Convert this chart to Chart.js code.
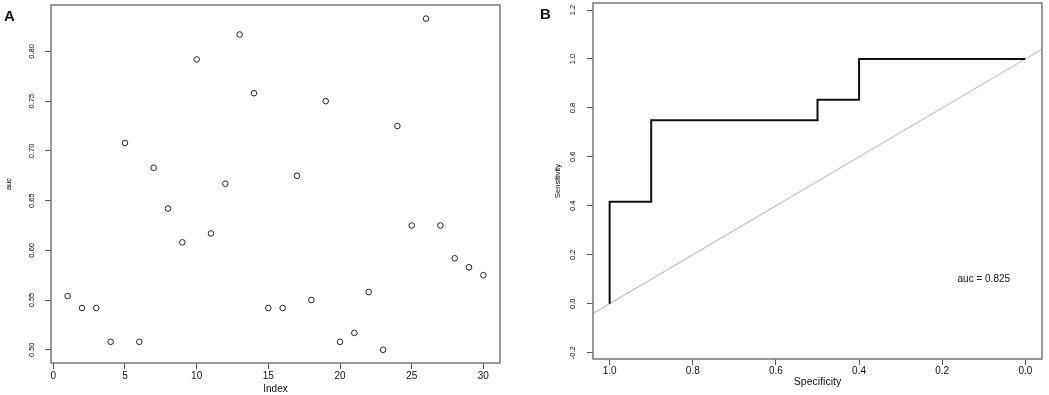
<!DOCTYPE html>
<html>
<head>
<meta charset="utf-8">
<script src="https://cdn.jsdelivr.net/npm/chart.js@4.4.0/dist/chart.umd.min.js"></script>
<style>
  body { margin: 0; background: #fff; }
  #wrap { position: relative; width: 1049px; height: 395px; overflow: hidden; }
  canvas { position: absolute; top: 0; }
  .tag { position: absolute; font: bold 15px "Liberation Sans", Arial, sans-serif; line-height: 1; color: #111; }
</style>
</head>
<body>
<div id="wrap">
  <canvas id="chartA" width="520" height="395" style="left:0"></canvas>
  <canvas id="chartB" width="529" height="395" style="left:520px"></canvas>
  <div class="tag" style="left:4px;top:8px">A</div>
  <div class="tag" style="left:540px;top:6px">B</div>
</div>
<script>
// Panel A: auc per index
const indexA = [1, 2, 3, 4, 5, 6, 7, 8, 9, 10, 11, 12, 13, 14, 15,
                16, 17, 18, 19, 20, 21, 22, 23, 24, 25, 26, 27, 28, 29, 30];
const aucA = [0.554, 0.542, 0.542, 0.508, 0.708, 0.508, 0.683, 0.642, 0.608, 0.792,
              0.617, 0.667, 0.817, 0.758, 0.542, 0.542, 0.675, 0.550, 0.750, 0.508,
              0.517, 0.558, 0.500, 0.725, 0.625, 0.833, 0.625, 0.592, 0.583, 0.575];
const xTicksA = [0, 5, 10, 15, 20, 25, 30];
const yTicksA = [0.50, 0.55, 0.60, 0.65, 0.70, 0.75, 0.80];

// Panel B: ROC curve
const specB = [1.0, 1.0, 0.9, 0.9, 0.5, 0.5, 0.4, 0.4, 0.0];
const sensB = [0.0, 0.417, 0.417, 0.75, 0.75, 0.833, 0.833, 1.0, 1.0];
const xTicksB = [1.0, 0.8, 0.6, 0.4, 0.2, 0.0];
const yTicksB = [-0.2, 0.0, 0.2, 0.4, 0.6, 0.8, 1.0, 1.2];
const aucLabel = "auc = 0.825";
const aucAt = { x: 0.1, y: 0.1 };

const xMinB = -0.04, xMaxB = 1.04;

Chart.defaults.font.family = '"Liberation Sans", Arial, sans-serif';
Chart.defaults.color = "#111";

// box round the plot region, like R's box()
const boxPlugin = {
    id: "box",
    afterDraw(chart) {
        const { ctx, chartArea: a } = chart;
        ctx.save();
        ctx.strokeStyle = "#777";
        ctx.lineWidth = 1.5;
        ctx.strokeRect(a.left, a.top, a.right - a.left, a.bottom - a.top);
        ctx.restore();
    }
};

const aucTextPlugin = {
    id: "aucText",
    afterDatasetsDraw(chart) {
        const { ctx, scales } = chart;
        ctx.save();
        ctx.font = '10px "Liberation Sans", Arial, sans-serif';
        ctx.fillStyle = "#111";
        ctx.textAlign = "center";
        ctx.textBaseline = "middle";
        ctx.fillText(aucLabel, scales.x.getPixelForValue(aucAt.x), scales.y.getPixelForValue(aucAt.y));
        ctx.restore();
    }
};

function fixedAxis(size) {
    return function (scale) {
        if (scale.isHorizontal()) {
            scale.height = size;
            scale.paddingLeft = 0;
            scale.paddingRight = 0;
        } else {
            scale.width = size;
            scale.paddingTop = 0;
            scale.paddingBottom = 0;
        }
    };
}

function setTicks(values) {
    return function (scale) {
        scale.ticks = values.map(v => ({ value: v }));
    };
}

const tickGrid = { drawOnChartArea: false, tickLength: 6, color: "#555", lineWidth: 1 };

new Chart(document.getElementById("chartA"), {
    type: "scatter",
    data: {
        datasets: [{
            data: indexA.map((x, i) => ({ x: x, y: aucA[i] })),
            pointRadius: 2.8,
            pointBorderWidth: 1,
            pointBorderColor: "#222",
            pointBackgroundColor: "rgba(0,0,0,0)"
        }]
    },
    options: {
        responsive: false,
        animation: false,
        events: [],
        layout: { padding: { left: 0, top: 5, right: 20, bottom: 0 } },
        plugins: { legend: { display: false }, tooltip: { enabled: false } },
        scales: {
            x: {
                type: "linear",
                min: -0.16,
                max: 31.16,
                afterBuildTicks: setTicks(xTicksA),
                afterFit: fixedAxis(32),
                grid: tickGrid,
                border: { display: false },
                ticks: { font: { size: 10 }, padding: 1, maxRotation: 0, autoSkip: false },
                title: { display: true, text: "Index", font: { size: 10 }, padding: { top: 0, bottom: 0 } }
            },
            y: {
                min: 0.4867,
                max: 0.8467,
                afterBuildTicks: setTicks(yTicksA),
                afterFit: fixedAxis(51),
                grid: tickGrid,
                border: { display: false },
                ticks: {
                    font: { size: 7.5 }, color: "#000", padding: 6, minRotation: 90, maxRotation: 90,
                    crossAlign: "center", autoSkip: false,
                    callback: v => v.toFixed(2)
                },
                title: { display: true, text: "auc", font: { size: 7.5 }, color: "#000", padding: { top: 4, bottom: 0 } }
            }
        }
    },
    plugins: [boxPlugin]
});

new Chart(document.getElementById("chartB"), {
    type: "scatter",
    data: {
        datasets: [
            {
                label: "ROC",
                data: specB.map((x, i) => ({ x: x, y: sensB[i] })),
                showLine: true,
                pointRadius: 0,
                borderColor: "#111",
                borderWidth: 2,
                tension: 0
            },
            {
                label: "reference",
                data: [{ x: xMaxB, y: 1 - xMaxB }, { x: xMinB, y: 1 - xMinB }],
                showLine: true,
                pointRadius: 0,
                borderColor: "#c4c4c4",
                borderWidth: 1.2
            }
        ]
    },
    options: {
        responsive: false,
        animation: false,
        events: [],
        layout: { padding: { left: 0, top: 3, right: 7, bottom: 0 } },
        plugins: { legend: { display: false }, tooltip: { enabled: false } },
        scales: {
            x: {
                type: "linear",
                reverse: true,
                min: xMinB,
                max: xMaxB,
                afterBuildTicks: setTicks(xTicksB),
                afterFit: fixedAxis(36),
                grid: tickGrid,
                border: { display: false },
                ticks: { font: { size: 10 }, padding: 0, maxRotation: 0, autoSkip: false, callback: v => v.toFixed(1) },
                title: { display: true, text: "Specificity", font: { size: 10.5 }, padding: { top: 0, bottom: 7 } }
            },
            y: {
                min: -0.2257,
                max: 1.2286,
                afterBuildTicks: setTicks(yTicksB),
                afterFit: fixedAxis(73),
                grid: tickGrid,
                border: { display: false },
                ticks: {
                    font: { size: 7.5 }, color: "#000", padding: 8, minRotation: 90, maxRotation: 90,
                    crossAlign: "center", autoSkip: false,
                    callback: v => v.toFixed(1)
                },
                title: { display: true, text: "Sensitivity", font: { size: 7.5 }, color: "#000", padding: { top: 33, bottom: 0 } }
            }
        }
    },
    plugins: [boxPlugin, aucTextPlugin]
});
</script>
</body>
</html>
